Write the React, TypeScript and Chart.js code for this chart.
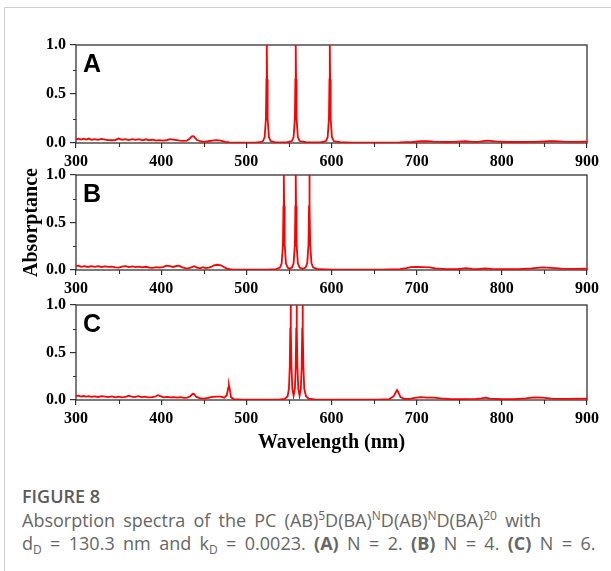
import React, { useEffect, useRef } from "react";
import { Chart, registerables } from "chart.js";
Chart.register(...registerables);

// ---------- data ----------
const xMajorTicks = [300, 400, 500, 600, 700, 800, 900];
const xMinorTicks = [350, 450, 550, 650, 750, 850];
const yMajorTicks = [0, 0.5, 1];
const yMinorTicks = [0.25, 0.75];

// Panel A (N = 2)
const wavelengthA = [300, 303, 306, 309, 312, 315, 318, 322, 326, 330, 334, 338, 342, 346, 350, 354, 358, 362, 366, 370, 374, 378, 382, 386, 390, 394, 398, 402, 406, 410, 414, 418, 422, 426, 430, 433, 436, 438, 440, 442, 446, 450, 455, 460, 465, 470, 475, 480, 490, 500, 510, 516, 519.5, 521.5, 523, 523.6, 524, 524.4, 525, 526.5, 528.5, 533, 540, 548, 553.5, 555.5, 557, 557.6, 558, 558.4, 559, 560.5, 562.5, 570, 580, 588, 593.5, 595.5, 597, 597.6, 598, 598.4, 599, 600.5, 602.5, 610, 625, 650, 680, 695, 705, 712, 720, 735, 745, 757, 765, 772, 783, 792, 805, 820, 840, 855, 862, 872, 885, 900];
const absorptanceA = [0.035, 0.045, 0.035, 0.045, 0.035, 0.045, 0.033, 0.04, 0.032, 0.042, 0.035, 0.03, 0.028, 0.03, 0.045, 0.032, 0.04, 0.03, 0.04, 0.032, 0.04, 0.028, 0.038, 0.028, 0.035, 0.025, 0.03, 0.025, 0.028, 0.04, 0.035, 0.03, 0.025, 0.022, 0.025, 0.04, 0.068, 0.07, 0.05, 0.03, 0.018, 0.012, 0.018, 0.025, 0.03, 0.025, 0.012, 0.006, 0.004, 0.003, 0.004, 0.008, 0.02, 0.06, 0.25, 0.65, 1, 0.65, 0.25, 0.06, 0.02, 0.008, 0.005, 0.008, 0.02, 0.06, 0.25, 0.65, 1, 0.65, 0.25, 0.06, 0.02, 0.008, 0.005, 0.008, 0.02, 0.06, 0.25, 0.65, 1, 0.65, 0.25, 0.06, 0.02, 0.008, 0.004, 0.004, 0.006, 0.01, 0.018, 0.02, 0.014, 0.01, 0.012, 0.018, 0.012, 0.012, 0.025, 0.016, 0.01, 0.01, 0.012, 0.018, 0.02, 0.015, 0.012, 0.014];

// Panel B (N = 4)
const wavelengthB = [300, 303, 306, 310, 314, 318, 322, 326, 330, 334, 338, 342, 346, 350, 354, 358, 362, 366, 370, 374, 378, 382, 386, 390, 394, 398, 402, 406, 410, 414, 418, 421, 424, 428, 432, 436, 439, 442, 446, 449, 452, 456, 459, 462, 466, 470, 473, 477, 482, 495, 510, 525, 535, 539.5, 541.5, 543, 543.6, 544, 544.4, 545, 546.5, 548.5, 551, 553.5, 555.5, 557, 557.6, 558, 558.4, 559, 560.5, 562.5, 566, 569.5, 571.5, 573, 573.6, 574, 574.4, 575, 576.5, 578.5, 585, 600, 630, 660, 680, 688, 693, 700, 708, 715, 722, 735, 748, 758, 765, 772, 780, 788, 800, 820, 835, 848, 858, 870, 885, 900];
const absorptanceB = [0.04, 0.045, 0.033, 0.04, 0.032, 0.04, 0.033, 0.04, 0.032, 0.038, 0.032, 0.036, 0.028, 0.025, 0.035, 0.04, 0.03, 0.037, 0.03, 0.036, 0.028, 0.034, 0.025, 0.022, 0.03, 0.025, 0.03, 0.045, 0.04, 0.032, 0.042, 0.045, 0.03, 0.02, 0.018, 0.03, 0.04, 0.025, 0.018, 0.03, 0.02, 0.025, 0.035, 0.05, 0.055, 0.05, 0.035, 0.015, 0.006, 0.003, 0.003, 0.005, 0.01, 0.025, 0.07, 0.27, 0.67, 1, 0.67, 0.27, 0.07, 0.025, 0.012, 0.025, 0.07, 0.27, 0.67, 1, 0.67, 0.27, 0.07, 0.025, 0.012, 0.025, 0.07, 0.27, 0.67, 1, 0.67, 0.27, 0.07, 0.025, 0.008, 0.004, 0.003, 0.004, 0.01, 0.02, 0.03, 0.033, 0.03, 0.028, 0.018, 0.01, 0.01, 0.02, 0.012, 0.01, 0.018, 0.012, 0.008, 0.01, 0.018, 0.028, 0.022, 0.015, 0.012, 0.014];

// Panel C (N = 6)
const wavelengthC = [300, 303, 306, 309, 312, 315, 318, 322, 326, 330, 334, 338, 342, 346, 350, 354, 358, 362, 365, 369, 373, 377, 381, 385, 389, 393, 396, 399, 403, 407, 411, 415, 419, 423, 427, 431, 434, 437, 439, 441, 445, 450, 455, 460, 465, 470, 474, 477, 478.8, 479.6, 480.4, 482, 485, 495, 510, 525, 538, 545, 548.5, 550, 551, 551.6, 552, 552.4, 553, 554, 555.5, 557, 558, 558.6, 559, 559.4, 560, 561, 562.5, 564, 565, 565.6, 566, 566.4, 567, 568, 570, 573, 580, 600, 630, 655, 668, 673, 676, 677, 678.5, 681, 685, 692, 698, 705, 712, 720, 728, 740, 755, 770, 776, 781, 786, 800, 815, 828, 838, 848, 858, 875, 900];
const absorptanceC = [0.04, 0.045, 0.035, 0.042, 0.035, 0.04, 0.033, 0.038, 0.032, 0.04, 0.035, 0.03, 0.038, 0.028, 0.035, 0.028, 0.032, 0.045, 0.035, 0.03, 0.04, 0.03, 0.035, 0.028, 0.03, 0.035, 0.05, 0.04, 0.028, 0.032, 0.028, 0.03, 0.025, 0.03, 0.022, 0.025, 0.04, 0.065, 0.06, 0.035, 0.02, 0.015, 0.022, 0.032, 0.035, 0.035, 0.025, 0.05, 0.13, 0.155, 0.12, 0.03, 0.01, 0.004, 0.003, 0.003, 0.005, 0.012, 0.04, 0.12, 0.35, 0.75, 1, 0.75, 0.35, 0.12, 0.045, 0.12, 0.35, 0.75, 1, 0.75, 0.35, 0.12, 0.045, 0.12, 0.35, 0.75, 1, 0.75, 0.35, 0.12, 0.04, 0.015, 0.006, 0.003, 0.003, 0.004, 0.01, 0.04, 0.09, 0.105, 0.08, 0.03, 0.012, 0.012, 0.022, 0.03, 0.026, 0.025, 0.018, 0.01, 0.01, 0.012, 0.018, 0.025, 0.015, 0.008, 0.01, 0.018, 0.028, 0.025, 0.015, 0.012, 0.014];

// ---------- style ----------
const SERIF = "'Liberation Serif', 'Times New Roman', serif";
const SANS = "'Liberation Sans', Arial, sans-serif";
const FRAME = "#333333";

const framePlugin = {
  id: "panelFrame",
  beforeDatasetsDraw(chart: any, _args: any, opts: any) {
    const { ctx, chartArea: a, scales } = chart;
    ctx.save();
    ctx.strokeStyle = FRAME;
    ctx.lineWidth = 1.3;
    ctx.strokeRect(a.left, a.top, a.right - a.left, a.bottom - a.top);
    ctx.beginPath();
    for (const v of xMinorTicks) {
      const px = Math.round(scales.x.getPixelForValue(v)) + 0.5;
      ctx.moveTo(px, a.bottom);
      ctx.lineTo(px, a.bottom + 4);
    }
    for (const v of yMinorTicks) {
      const py = Math.round(scales.y.getPixelForValue(v)) + 0.5;
      ctx.moveTo(a.left, py);
      ctx.lineTo(a.left - 3, py);
    }
    ctx.lineWidth = 1.1;
    ctx.stroke();
    ctx.fillStyle = "#000";
    ctx.font = `bold 25px ${SANS}`;
    ctx.textBaseline = "alphabetic";
    ctx.fillText(opts.letter, a.left + 7, a.top + 27);
    ctx.restore();
  },
};

type PanelProps = {
  top: number;
  height: number;
  xs: number[];
  ys: number[];
  letter: string;
  xAxisHeight: number;
  yTitle?: string;
  xTitle?: string;
};

function Panel({ top, height, xs, ys, letter, xAxisHeight, yTitle, xTitle }: PanelProps) {
  const ref = useRef<HTMLCanvasElement | null>(null);
  useEffect(() => {
    if (!ref.current) return;
    const tickFont = { family: SERIF, weight: "bold" as const, size: 16 };
    const titleFont = { family: SERIF, weight: "bold" as const, size: 20 };
    const chart = new Chart(ref.current, {
      type: "line",
      data: {
        datasets: [
          {
            data: xs.map((x, i) => ({ x, y: ys[i] })),
            borderColor: "#ff0000",
            borderWidth: 1.8,
            pointRadius: 0,
            fill: false,
            tension: 0,
          },
        ],
      },
      options: {
        animation: false,
        responsive: false,
        devicePixelRatio: 1,
        layout: { padding: { left: 20, right: 24, top: 45, bottom: 0 } },
        plugins: {
          legend: { display: false },
          tooltip: { enabled: false },
          panelFrame: { letter },
        } as any,
        scales: {
          x: {
            type: "linear",
            min: 300,
            max: 900,
            afterBuildTicks: (s: any) => {
              s.ticks = xMajorTicks.map((v) => ({ value: v }));
            },
            afterFit: (s: any) => {
              s.height = xAxisHeight;
            },
            ticks: {
              font: tickFont,
              color: "#000",
              padding: 4,
              maxRotation: 0,
              callback: (v: any) => String(v),
            },
            grid: {
              drawOnChartArea: false,
              drawTicks: true,
              tickLength: 5,
              color: FRAME,
              lineWidth: 1.2,
            },
            border: { display: false },
            title: xTitle
              ? { display: true, text: xTitle, font: titleFont, color: "#000", padding: { top: 0, bottom: 5 } }
              : { display: false },
          },
          y: {
            type: "linear",
            min: 0,
            max: 1,
            afterBuildTicks: (s: any) => {
              s.ticks = yMajorTicks.map((v) => ({ value: v }));
            },
            afterFit: (s: any) => {
              s.width = 56;
            },
            ticks: {
              font: tickFont,
              color: "#000",
              padding: 4,
              callback: (v: any) => Number(v).toFixed(1),
            },
            grid: {
              drawOnChartArea: false,
              drawTicks: true,
              tickLength: 6,
              color: FRAME,
              lineWidth: 1.2,
            },
            border: { display: false },
            title: yTitle
              ? { display: true, text: yTitle, font: titleFont, color: "#000", padding: { top: 0, bottom: 0 } }
              : { display: false },
          },
        },
      },
      plugins: [framePlugin as any],
    });
    return () => chart.destroy();
  }, []);
  return (
    <canvas
      ref={ref}
      width={611}
      height={height}
      style={{ position: "absolute", left: 0, top, width: 611, height }}
    />
  );
}

const supStyle: React.CSSProperties = { fontSize: 12, position: "relative", top: -7, lineHeight: 0 };
const subStyle: React.CSSProperties = { fontSize: 12, position: "relative", top: 4, lineHeight: 0 };

export default function App() {
  return (
    <div style={{ position: "absolute", left: 0, top: 0, width: 611, height: 571, overflow: "hidden", background: "#fff" }}>
      <div
        style={{
          position: "absolute",
          left: 4,
          top: 7,
          width: 620,
          height: 600,
          borderTop: "1px solid #d0d0d0",
          borderLeft: "1px solid #d0d0d0",
        }}
      />
      <Panel top={0} height={180} xs={wavelengthA} ys={absorptanceA} letter="A" xAxisHeight={37} />
      <Panel top={130} height={180} xs={wavelengthB} ys={absorptanceB} letter="B" xAxisHeight={40} yTitle="Absorptance" />
      <Panel top={260} height={200} xs={wavelengthC} ys={absorptanceC} letter="C" xAxisHeight={60} xTitle="Wavelength (nm)" />
      <div
        style={{
          position: "absolute",
          left: 22,
          top: 485,
          fontFamily: "'Open Sans', sans-serif",
          fontSize: 18,
          lineHeight: "23.5px",
          color: "#666",
          whiteSpace: "nowrap",
        }}
      >
        <div style={{ fontWeight: 600, color: "#5a5a5a" }}>FIGURE 8</div>
        <div style={{ wordSpacing: "3.5px" }}>
          Absorption spectra of the PC (AB)<span style={supStyle}>5</span>D(BA)<span style={supStyle}>N</span>D(AB)
          <span style={supStyle}>N</span>D(BA)<span style={supStyle}>20</span> with
        </div>
        <div style={{ wordSpacing: "3.7px" }}>
          d<span style={subStyle}>D</span> = 130.3 nm and k<span style={subStyle}>D</span> = 0.0023.{" "}
          <b>(A)</b> N = 2. <b>(B)</b> N = 4. <b>(C)</b> N = 6.
        </div>
      </div>
    </div>
  );
}
